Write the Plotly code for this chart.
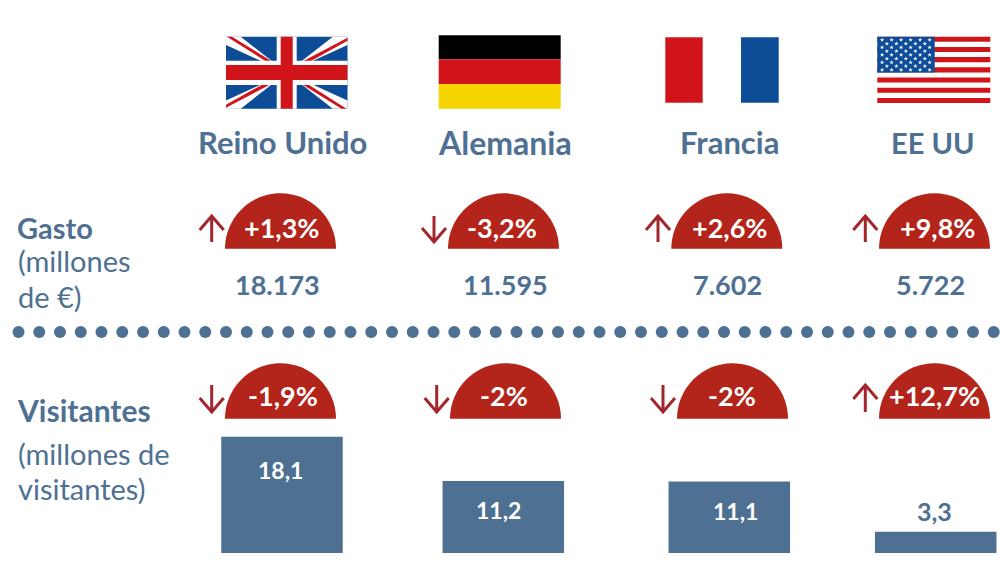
import plotly.graph_objects as go

# datos
paises = ["Reino Unido", "Alemania", "Francia", "EE UU"]
gasto = [18173, 11595, 7602, 5722]
gasto_var = ["+1,3%", "-3,2%", "+2,6%", "+9,8%"]
visitantes = [18.1, 11.2, 11.1, 3.3]
visitantes_var = ["-1,9%", "-2%", "-2%", "+12,7%"]

AZUL = "#4e7093"
ROJO = "#b3241a"
FLECHA = "#a2262c"
FLAG_RED = "#d0141a"
FLAG_BLUE = "#0d4c97"
FONT = "Lato"

# posiciones en pixeles de cada columna
X_NOMBRE = [282, 505, 729.7, 932]
T_NOMBRE = [31, 32, 31, 29]
X_GASTO = [277, 505, 727, 930]
X_SEMI1 = [280.5, 503.5, 726.8, 934.5]
X_SEMI2 = [280.5, 505.5, 732.5, 934.5]
X_PCT1 = [281.5, 502, 729, 937]
X_PCT2 = [282.7, 504, 732, 934]
X_FLECHA1 = [211.7, 434, 658, 865.3]
X_FLECHA2 = [211.7, 436.7, 663, 865.3]
X_BARRA = [282, 503.3, 729.3, 935.7]
X_VALOR = [280, 498, 735, 934]
Y_VALOR = [470, 510, 511, 511]
ANCHO_BARRA = 121.5
RADIO = 55.5

fig = go.Figure()
shapes = []
annots = []


def rect(x0, y0, x1, y1, color):
    shapes.append(dict(type="rect", x0=x0, y0=y0, x1=x1, y1=y1, layer="below",
                       fillcolor=color, line_width=0, xref="x", yref="y"))


def poly(pts, color):
    path = "M " + " L ".join(f"{a} {b}" for a, b in pts) + " Z"
    shapes.append(dict(type="path", path=path, fillcolor=color, line_width=0,
                       layer="below", xref="x", yref="y"))


def text(x, y, s, size, color=AZUL, bold=True, anchor="center"):
    annots.append(dict(x=x, y=y, text=f"<b>{s}</b>" if bold else s, showarrow=False,
                       xref="x", yref="y", xanchor=anchor, yanchor="middle",
                       font=dict(family=FONT, size=size, color=color)))


def semicirculo(cx, base):
    # plotly no acepta arcos en los path, dos curvas bezier
    r, k = RADIO, RADIO * 0.5523
    path = (f"M {cx - r} {base} C {cx - r} {base - k} {cx - k} {base - r} {cx} {base - r} "
            f"C {cx + k} {base - r} {cx + r} {base - k} {cx + r} {base} Z")
    shapes.append(dict(type="path", path=path, fillcolor=ROJO, line_width=0,
                       xref="x", yref="y"))


def flecha(x, y0, y1, sube):
    # y0 arriba, y1 abajo
    if sube:
        path = f"M {x} {y1} L {x} {y0} M {x - 12} {y0 + 14} L {x} {y0} L {x + 12} {y0 + 14}"
    else:
        path = f"M {x} {y0} L {x} {y1} M {x - 12} {y1 - 14} L {x} {y1} L {x + 12} {y1 - 14}"
    shapes.append(dict(type="path", path=path, line=dict(color=FLECHA, width=3),
                       xref="x", yref="y"))


# bandera UK
L, R, T, B = 226, 347.5, 36.7, 108.7
cx, cy = (L + R) / 2, (T + B) / 2
hw, hh = (R - L) / 2, (B - T) / 2
rect(L, T, R, B, FLAG_BLUE)
for sx, sy in [(-1, -1), (1, -1), (-1, 1), (1, 1)]:
    poly([(cx, cy), (cx + sx * (hw - 14.7), cy + sy * hh), (cx + sx * hw, cy + sy * hh),
          (cx + sx * hw, cy + sy * (hh - 8.3))], "white")
# franjas rojas finas
poly([(L + 1, T), (L + 6, T), (cx, cy - 2), (cx - 3, cy)], FLAG_RED)
poly([(R, T + 1), (R, T + 4), (cx + 3, cy), (cx, cy - 3)], FLAG_RED)
poly([(R - 1, B), (R - 6, B), (cx, cy + 2), (cx + 3, cy)], FLAG_RED)
poly([(L, B - 1), (L, B - 4), (cx - 3, cy), (cx, cy + 3)], FLAG_RED)
rect(276.7, T, 296.7, B, "white")
rect(L, 60.7, R, 85, "white")
rect(280.7, T, 292.7, B, FLAG_RED)
rect(L, 65, R, 80, FLAG_RED)

# bandera Alemania
rect(438.7, 35.3, 560.7, 59.3, "#000000")
rect(438.7, 59.3, 560.7, 84, FLAG_RED)
rect(438.7, 84, 560.7, 108.7, "#f5d400")

# bandera Francia (el blanco queda sobre el fondo)
rect(665.3, 37.3, 702.7, 102.7, FLAG_RED)
rect(741, 37.3, 778.7, 102.7, FLAG_BLUE)

# bandera EE UU
UL, UR, UT, UB = 877.3, 990.3, 36.7, 103
franja = (UB - UT) / 13
for i in range(0, 13, 2):
    rect(UL, UT + i * franja, UR, UT + (i + 1) * franja, FLAG_RED)
rect(UL, UT, 934.7, UT + 7 * franja, FLAG_BLUE)
sx_est, sy_est = [], []
for fila in range(9):
    n = 6 if fila % 2 == 0 else 5
    off = 0 if fila % 2 == 0 else 0.5
    for k in range(n):
        sx_est.append(UL + 4.8 + (k + off) * 9.5)
        sy_est.append(UT + 3.2 + fila * 3.75)
fig.add_trace(go.Scatter(x=sx_est, y=sy_est, mode="markers", hoverinfo="skip",
                         marker=dict(symbol="star", size=3.4, color="white")))

# linea de puntos
dots = [18.5 + i * 20.75 for i in range(48)]
fig.add_trace(go.Scatter(x=dots, y=[332] * len(dots), mode="markers", hoverinfo="skip",
                         marker=dict(size=12, color=AZUL)))

# barras
fig.add_trace(go.Bar(x=X_BARRA, y=visitantes, width=ANCHO_BARRA, yaxis="y2",
                     marker=dict(color=AZUL, line_width=0), hoverinfo="skip"))

for i, p in enumerate(paises):
    text(X_NOMBRE[i], 142, p, T_NOMBRE[i])
    text(X_GASTO[i], 284.5, f"{gasto[i]:,}".replace(",", "."), 27)
    semicirculo(X_SEMI1[i], 248.7)
    semicirculo(X_SEMI2[i], 418.7)
    text(X_PCT1[i], 227, gasto_var[i], 27, "white")
    text(X_PCT2[i], 395.7, visitantes_var[i], 27, "white")
    flecha(X_FLECHA1[i], 216, 242, gasto_var[i].startswith("+"))
    flecha(X_FLECHA2[i], 385, 412, visitantes_var[i].startswith("+"))
    es_alta = visitantes[i] > 5
    text(X_VALOR[i], Y_VALOR[i], f"{visitantes[i]}".replace(".", ","),
         23 if es_alta else 25, "white" if es_alta else AZUL)

text(14.5, 227, "Gasto", 29, anchor="left")
text(15.5, 260, "(millones", 29, bold=False, anchor="left")
text(15.5, 296, "de €)", 29, bold=False, anchor="left")
text(14.5, 409.5, "Visitantes", 30, anchor="left")
text(15.5, 453, "(millones de", 29, bold=False, anchor="left")
text(15.5, 488, "visitantes)", 29, bold=False, anchor="left")

fig.update_layout(
    width=1000, height=567, margin=dict(l=0, r=0, t=0, b=0),
    paper_bgcolor="white", plot_bgcolor="white", showlegend=False,
    xaxis=dict(range=[0, 1000], visible=False, fixedrange=True),
    yaxis=dict(range=[567, 0], visible=False, fixedrange=True),
    # eje de barras: 0 en y=553, 18.1 en y=436.5
    yaxis2=dict(domain=[14 / 567, 130.5 / 567], range=[0, 18.1], visible=False,
                fixedrange=True, anchor="x"),
    shapes=shapes, annotations=annots,
)
# quita el margen del body para que la figura ocupe toda la ventana
fig.write_html("out.html", config={"displayModeBar": False},
               post_script="document.body.style.margin='0';")
